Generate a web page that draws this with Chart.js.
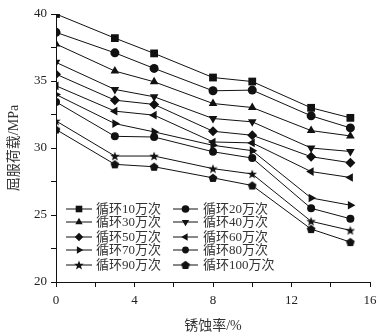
<!DOCTYPE html>
<html>
<head>
<meta charset="utf-8">
<script src="https://cdn.jsdelivr.net/npm/chart.js@4/dist/chart.umd.min.js"></script>
<style>
  html, body { margin: 0; padding: 0; background: #fff; }
  #chart { display: block; }
</style>
</head>
<body>
<canvas id="chart" width="388" height="335"></canvas>
<script>
const corrosionRates = [0, 3, 5, 8, 10, 13, 15];

const seriesNames = ['循环10万次', '循环20万次', '循环30万次', '循环40万次', '循环50万次',
    '循环60万次', '循环70万次', '循环80万次', '循环90万次', '循环100万次'];

const cycles10 = [40.0, 38.2, 37.06, 35.26, 34.96, 33.0, 32.25];
const cycles20 = [38.63, 37.1, 35.94, 34.27, 34.32, 32.4, 31.5];
const cycles30 = [37.76, 35.74, 34.94, 33.32, 33.02, 31.3, 30.9];
const cycles40 = [36.39, 34.37, 33.82, 32.2, 31.95, 30.0, 29.74];
const cycles50 = [35.51, 33.57, 33.25, 31.25, 30.95, 29.35, 28.9];
const cycles60 = [34.64, 32.75, 32.45, 30.45, 30.38, 28.24, 27.8];
const cycles70 = [33.99, 31.82, 31.2, 30.2, 29.8, 26.27, 25.73];
const cycles80 = [33.44, 30.87, 30.82, 29.72, 29.25, 25.5, 24.72];
const cycles90 = [32.02, 29.4, 29.4, 28.46, 28.06, 24.53, 23.85];
const cycles100 = [31.38, 28.78, 28.6, 27.77, 27.2, 23.95, 22.98];

const xTicks = [0, 4, 8, 12, 16];
const yTicks = [20, 25, 30, 35, 40];

// filled star and pentagon markers, chart.js only has outline star
function makeMarker(kind) {
    const c = document.createElement('canvas');
    c.width = 10;
    c.height = 10;
    const g = c.getContext('2d');
    g.fillStyle = '#111';
    g.beginPath();
    const n = kind === 'star' ? 10 : 5;
    for (let i = 0; i < n; i++) {
        const a = -Math.PI / 2 + i * 2 * Math.PI / n;
        let r = kind === 'star' ? 5 : 4.6;
        if (kind === 'star' && i % 2 === 1) r = 2.1;
        const px = 5 + r * Math.cos(a);
        const py = 5.4 + r * Math.sin(a);
        if (i === 0) g.moveTo(px, py); else g.lineTo(px, py);
    }
    g.closePath();
    g.fill();
    return c;
}

const starMarker = makeMarker('star');
const pentaMarker = makeMarker('penta');

const allSeries = [cycles10, cycles20, cycles30, cycles40, cycles50,
    cycles60, cycles70, cycles80, cycles90, cycles100];
const markerStyles = ['rect', 'circle', 'triangle', 'triangle', 'rectRot',
    'triangle', 'triangle', 'circle', starMarker, pentaMarker];
const markerRotation = [0, 0, 0, 180, 0, 270, 90, 0, 0, 0];
const markerRadius = [5.5, 4.5, 5, 5, 5, 5, 5, 4, 5, 5];

const datasets = allSeries.map((vals, i) => ({
    label: seriesNames[i],
    data: vals.map((v, j) => ({ x: corrosionRates[j], y: v })),
    borderColor: '#111',
    backgroundColor: '#111',
    borderWidth: 1,
    pointStyle: markerStyles[i],
    rotation: markerRotation[i],
    pointRadius: markerRadius[i],
    pointBorderWidth: 0,
    showLine: true,
    tension: 0
}));

// two column legend inside the plot, bottom left
const innerLegend = {
    id: 'innerLegend',
    afterDraw(chart) {
        const ctx = chart.ctx;
        const colLine = [[66, 92], [173, 198]];
        const colText = [96, 203];
        const rowY = [209, 222, 237, 250, 265];
        ctx.save();
        ctx.font = '13px "Liberation Serif", "Noto Sans CJK SC", serif';
        ctx.textBaseline = 'middle';
        chart.data.datasets.forEach((ds, i) => {
            const col = i % 2;
            const y = rowY[Math.floor(i / 2)];
            const [x1, x2] = colLine[col];
            ctx.strokeStyle = '#111';
            ctx.lineWidth = 1;
            ctx.beginPath();
            ctx.moveTo(x1, y);
            ctx.lineTo(x2, y);
            ctx.stroke();
            ctx.fillStyle = '#111';
            Chart.helpers.drawPoint(ctx, {
                pointStyle: ds.pointStyle,
                rotation: ds.rotation,
                radius: ds.pointRadius * 0.85,
                borderWidth: 0
            }, (x1 + x2) / 2, y);
            ctx.fillStyle = '#333';
            ctx.fillText(ds.label, colText[col], y + 1);
        });
        ctx.restore();
    }
};

const tickFont = { family: '"Liberation Serif", serif', size: 13 };
const titleFont = { family: '"Liberation Serif", "Noto Sans CJK SC", serif', size: 14 };

new Chart(document.getElementById('chart').getContext('2d'), {
    type: 'scatter',
    data: { datasets: datasets },
    options: {
        responsive: false,
        animation: false,
        layout: { padding: { top: 14, right: 18, left: 0, bottom: 0 } },
        plugins: {
            legend: { display: false },
            tooltip: { enabled: false }
        },
        scales: {
            x: {
                type: 'linear',
                min: 0,
                max: 16,
                afterFit: (s) => { s.height = 53; },
                afterBuildTicks: (s) => {
                    s.ticks = [0, 2, 4, 6, 8, 10, 12, 14, 16].map(v => ({ value: v }));
                },
                ticks: {
                    font: tickFont,
                    color: '#222',
                    padding: 6,
                    maxRotation: 0,
                    callback: (v) => xTicks.includes(v) ? String(v) : ''
                },
                grid: { drawOnChartArea: false, tickLength: 5, color: '#111' },
                border: { color: '#111', width: 1 },
                title: {
                    display: true,
                    text: '锈蚀率/%',
                    font: titleFont,
                    color: '#333',
                    padding: { top: 0, bottom: 0 }
                }
            },
            y: {
                min: 20,
                max: 40,
                afterFit: (s) => { s.width = 56; },
                afterBuildTicks: (s) => {
                    s.ticks = [20, 22.5, 25, 27.5, 30, 32.5, 35, 37.5, 40].map(v => ({ value: v }));
                },
                ticks: {
                    font: tickFont,
                    color: '#222',
                    padding: 4,
                    callback: (v) => yTicks.includes(v) ? String(v) : ''
                },
                grid: { drawOnChartArea: false, tickLength: 5, color: '#111' },
                border: { color: '#111', width: 1 },
                title: {
                    display: true,
                    text: '屈服荷载/MPa',
                    font: titleFont,
                    color: '#333',
                    padding: { top: 6, bottom: 0 }
                }
            }
        }
    },
    plugins: [innerLegend]
});
</script>
</body>
</html>
